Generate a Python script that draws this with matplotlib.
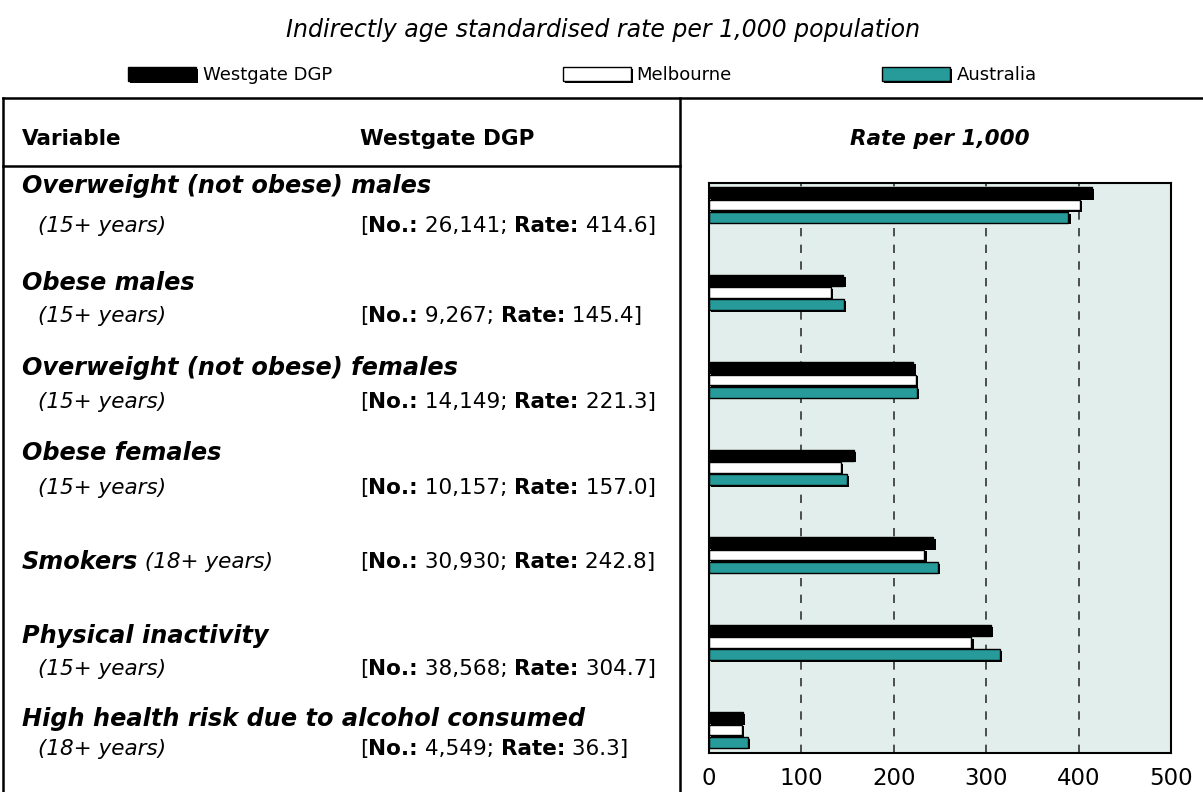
import matplotlib
matplotlib.use("Agg")
import matplotlib.pyplot as plt
import numpy as np
from matplotlib.transforms import Affine2D
from matplotlib.patches import Rectangle
from matplotlib.lines import Line2D

# ---- data -------------------------------------------------------------
variables = [
    "Overweight (not obese) males",
    "Obese males",
    "Overweight (not obese) females",
    "Obese females",
    "Smokers",
    "Physical inactivity",
    "High health risk due to alcohol consumed",
]
ages = ["(15+ years)", "(15+ years)", "(15+ years)", "(15+ years)",
        "(18+ years)", "(15+ years)", "(18+ years)"]
counts = ["26,141", "9,267", "14,149", "10,157", "30,930", "38,568", "4,549"]
westgate = [414.6, 145.4, 221.3, 157.0, 242.8, 304.7, 36.3]
melbourne = [401, 132, 224, 143, 233, 284, 36]
australia = [389, 146, 225, 149, 248, 315, 42]
series_names = ["Westgate DGP", "Melbourne", "Australia"]
xticks = [0, 100, 200, 300, 400, 500]

TEAL = "#279a9a"
BG = "#e1eeeb"
COLORS = ["black", "white", TEAL]

W, H = 1203, 792
fig = plt.figure(figsize=(W / 100, H / 100), dpi=100)
px = Affine2D().scale(1 / W, -1 / H).translate(0, 1) + fig.transFigure
renderer = fig.canvas.get_renderer()

BODY = "DejaVu Sans"


def put(x, y, pieces):
    """Draw text pieces one after another starting at pixel x."""
    for s, kw in pieces:
        kw = dict(kw)
        size = kw.pop("size", 15.5)
        t = fig.text(x, y, s, transform=px, va="center", ha="left",
                     fontsize=size, family=BODY, **kw)
        x += t.get_window_extent(renderer).width


# ---- table frame ------------------------------------------------------
lw = 1.8
fig.add_artist(Line2D([3, W], [98, 98], transform=px, color="black", lw=lw))
fig.add_artist(Line2D([3, 3], [98, H], transform=px, color="black", lw=lw))
fig.add_artist(Line2D([680, 680], [98, H], transform=px, color="black", lw=lw))
fig.add_artist(Line2D([3, 680], [166, 166], transform=px, color="black", lw=lw))

# ---- subtitle + legend ------------------------------------------------
fig.text(603, 30, "Indirectly age standardised rate per 1,000 population",
         transform=px, ha="center", va="center", fontsize=17,
         style="italic", family=BODY)
for (x0, tx), name, c in zip([(128, 203), (563, 636), (882, 957)], series_names, COLORS):
    fig.add_artist(Rectangle((x0 + 2, 69), 68, 14, transform=px, fc="black", ec="none"))
    fig.add_artist(Rectangle((x0, 67), 68, 14, transform=px, fc=c, ec="black", lw=1))
    fig.text(tx, 75, name, transform=px, va="center", fontsize=13, family=BODY)

# ---- header row -------------------------------------------------------
fig.text(22, 139, "Variable", transform=px, va="center", fontsize=15.5,
         weight="bold", family=BODY)
fig.text(360, 139, "Westgate DGP", transform=px, va="center", fontsize=15.5,
         weight="bold", family=BODY)
fig.text(940, 139, "Rate per 1,000", transform=px, va="center", ha="center",
         fontsize=15.5, weight="bold", style="italic", family=BODY)

# ---- row labels -------------------------------------------------------
name_y = [186, 283, 368, 453, 562, 636, 719]
sub_y = [226, 316, 402, 488, 562, 669, 749]
bi = dict(weight="bold", style="italic", size=17.3)
it = dict(style="italic")
for i, var in enumerate(variables):
    if name_y[i] == sub_y[i]:
        put(22, name_y[i], [(var, bi), (" " + ages[i], it)])
    else:
        put(22, name_y[i], [(var, bi)])
        put(38, sub_y[i], [(ages[i], it)])
    put(360, sub_y[i], [("[", {}), ("No.:", dict(weight="bold")),
                        (" " + counts[i] + "; ", {}), ("Rate:", dict(weight="bold")),
                        (" %.1f]" % westgate[i], {})])

# ---- bar chart --------------------------------------------------------
ax = fig.add_axes([709 / W, 1 - 753 / H, 462 / W, 570 / H])
ax.set_facecolor(BG)
y = np.arange(len(variables))
h = 0.122
offs = [-0.14, 0.0, 0.14]
for vals, off, c in zip([westgate, melbourne, australia], offs, COLORS):
    ax.barh(y + off + 0.02, vals, height=h, left=2.4, color="black", zorder=2)
    ax.barh(y + off, vals, height=h, color=c, edgecolor="black", lw=1, zorder=3)

ax.set_xlim(0, 500)
ax.set_ylim(6.263, -0.251)
ax.set_xticks(xticks)
ax.set_xticklabels([str(v) for v in xticks])
ax.set_yticks([])
ax.xaxis.grid(True, linestyle=(0, (5, 5)), color="#333333", lw=1.2, zorder=1)
ax.set_axisbelow(True)
ax.tick_params(axis="x", length=0, labelsize=16.5, pad=10)
for s in ax.spines.values():
    s.set_linewidth(1.5)
    s.set_zorder(5)

fig.savefig("out.png", dpi=100)
